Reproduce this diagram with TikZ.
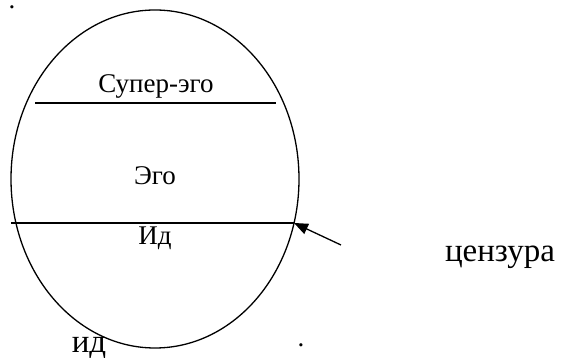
\documentclass[tikz,border=0pt]{standalone}
\usepackage{fontspec}
\setmainfont{Liberation Serif}
\usetikzlibrary{shapes.geometric,arrows.meta}
\begin{document}
\begin{tikzpicture}[x=1pt,y=1pt,
  lbl/.style={inner sep=0pt,anchor=base,font=\fontsize{27}{32}\selectfont},
  big/.style={inner sep=0pt,anchor=base,font=\fontsize{33}{38}\selectfont},
  ln/.style={line width=1.3pt},
]
\useasboundingbox (0,0) rectangle (563,358);
\node[ellipse,draw,line width=1.3pt,minimum width=288pt,minimum height=338pt,inner sep=0pt] (egg) at (155,179) {};
\coordinate (sl) at (35,255);
\coordinate (sr) at (276,255);
\draw[ln] (sl) -- (sr);
\coordinate (cl) at (11,135);
\coordinate (cr) at (294,135);
\draw[ln] (cl) -- (cr);
\node[lbl] (super) at (156,265) {Супер-эго};
\node[lbl] (ego) at (155,173) {Эго};
\node[lbl] (id1) at (155,113) {Ид};
\node[big] (cens) at (500,96) {цензура};
\node[big] (id2) at (89,5) {ид};
\coordinate (tail) at (341,113);
\draw[ln,-{Triangle[length=14pt,width=11pt]}] (tail) -- (cr);
\node[lbl] (dot1) at (12,349) {.};
\node[lbl] (dot2) at (301,11) {.};
\end{tikzpicture}
\end{document}
